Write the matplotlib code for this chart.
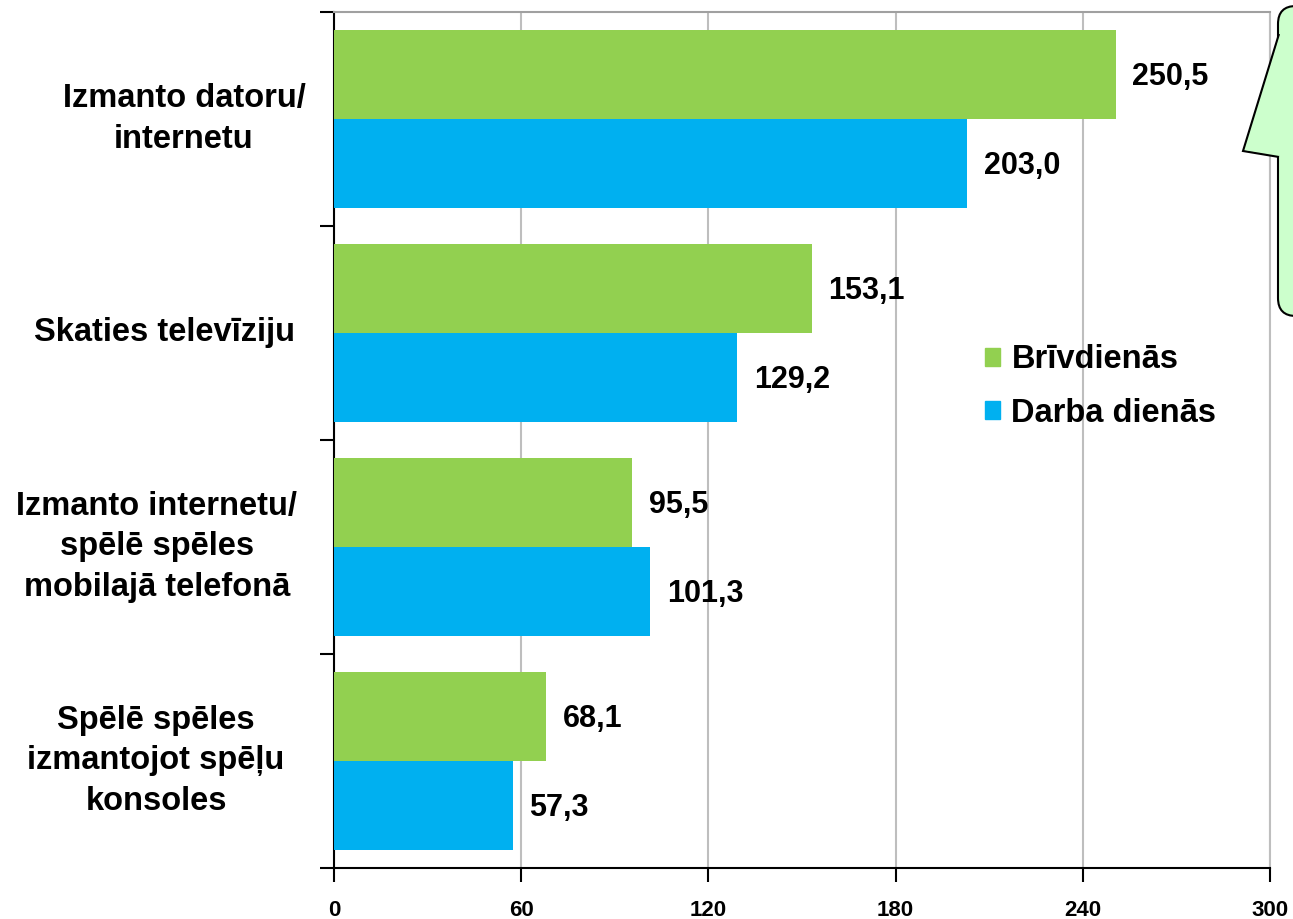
import matplotlib
matplotlib.use("Agg")
import matplotlib.pyplot as plt
from matplotlib.patches import Patch, FancyBboxPatch, Polygon

plt.rcParams['font.family'] = ['Liberation Sans', 'DejaVu Sans']
plt.rcParams['font.weight'] = 'bold'

# data
categories = ["Izmanto datoru/\ninternetu",
              "Skaties televīziju",
              "Izmanto internetu/\nspēlē spēles\nmobilajā telefonā",
              "Spēlē spēles\nizmantojot spēļu\nkonsoles"]
brivdienas = [250.5, 153.1, 95.5, 68.1]
darba_dienas = [203.0, 129.2, 101.3, 57.3]
series_names = ["Brīvdienās", "Darba dienās"]
x_ticks = [0, 60, 120, 180, 240, 300]

green = "#92D050"
blue = "#00B0F0"

fig = plt.figure(figsize=(12.93, 9.19), dpi=100)
ax = fig.add_axes([334 / 1293, 51 / 919, (1270 - 334) / 1293, (868 - 12) / 919])

h = 0.415
ys = list(range(len(categories)))
ax.barh([y - h / 2 for y in ys], brivdienas, height=h, color=green, zorder=3)
ax.barh([y + h / 2 for y in ys], darba_dienas, height=h, color=blue, zorder=3)

def fmt(v):
    return f"{v:.1f}".replace(".", ",")

for y, v in zip(ys, brivdienas):
    ax.annotate(fmt(v), (v, y - h / 2 + 0.01), xytext=(12, 0), textcoords="offset points",
                ha="left", va="center", fontsize=22, fontweight="bold")
for y, v in zip(ys, darba_dienas):
    ax.annotate(fmt(v), (v, y + h / 2 + 0.01), xytext=(12, 0), textcoords="offset points",
                ha="left", va="center", fontsize=22, fontweight="bold")

ax.set_xlim(0, 300)
ax.set_ylim(len(categories) - 0.5, -0.5)
ax.set_xticks(x_ticks)
ax.set_xticklabels([str(t) for t in x_ticks], fontsize=16, fontweight="bold")
ax.tick_params(axis="x", length=10, width=1.5, pad=13, direction="out")

# category boundaries as ticks
ax.set_yticks([i - 0.5 for i in range(len(categories) + 1)])
ax.set_yticklabels([])
ax.tick_params(axis="y", length=10, width=1.5, direction="out")

# category labels, centred blocks to the left of the axis (x in pixels from axis)
label_centres = [-150, -170, -177, -178]
for y, text, dx in zip(ys, categories, label_centres):
    ax.annotate(text, (0, y), xytext=(dx * 0.72, 0), textcoords="offset points",
                ha="center", va="center", fontsize=23.5, fontweight="bold",
                linespacing=1.38, annotation_clip=False)

ax.grid(axis="x", color="#BEBEBE", linewidth=1.5, zorder=0)
ax.spines["left"].set_linewidth(1.5)
ax.spines["bottom"].set_linewidth(1.5)
ax.spines["top"].set_color("#A0A0A0")
ax.spines["top"].set_linewidth(1.5)
ax.spines["right"].set_color("#BEBEBE")
ax.spines["right"].set_linewidth(1.5)

handles = [Patch(color=green), Patch(color=blue)]
fig.legend(handles, series_names, loc="upper left", bbox_to_anchor=(956 / 1293, 1 - 315 / 919),
           frameon=False, prop={"size": 23.5, "weight": "bold"},
           handlelength=0.45, handleheight=0.45, handletextpad=0.35, labelspacing=0.68)

# speech bubble callout at the right edge
ov = fig.add_axes([0, 0, 1, 1], zorder=10)
ov.set_xlim(0, 1293)
ov.set_ylim(919, 0)
ov.axis("off")
ov.add_patch(FancyBboxPatch((1278, 6), 60, 310, boxstyle="round,pad=0,rounding_size=18",
                            facecolor="#CCFFCC", edgecolor="black", linewidth=1.5))
ov.add_patch(Polygon([(1279, 34), (1243, 151), (1279, 157)], closed=False,
                     facecolor="#CCFFCC", edgecolor="black", linewidth=1.5))
ov.add_patch(Polygon([(1280, 36), (1246, 150), (1280, 155)], closed=True,
                     facecolor="#CCFFCC", edgecolor="none"))

fig.savefig("out.png", dpi=100)
